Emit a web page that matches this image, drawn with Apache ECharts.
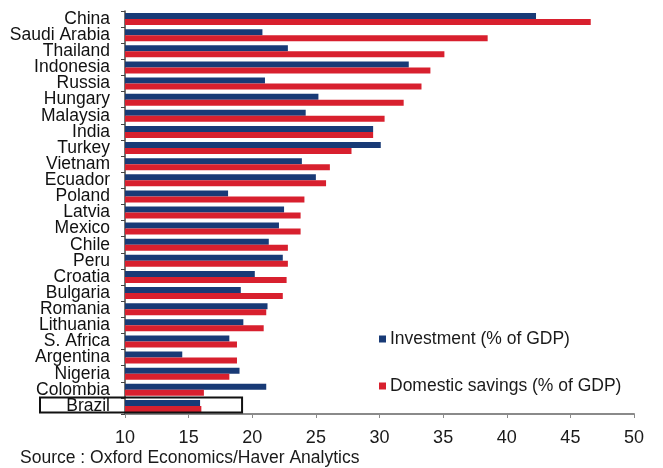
<!DOCTYPE html>
<html>
<head>
<meta charset="utf-8">
<script src="https://cdn.jsdelivr.net/npm/echarts@6/dist/echarts.min.js"></script>
<style>
html,body{margin:0;padding:0;background:#fff;}
#chart{width:663px;height:468px;}
</style>
</head>
<body>
<div id="chart"></div>
<script>
var categories = ["China","Saudi Arabia","Thailand","Indonesia","Russia","Hungary","Malaysia","India","Turkey","Vietnam","Ecuador","Poland","Latvia","Mexico","Chile","Peru","Croatia","Bulgaria","Romania","Lithuania","S. Africa","Argentina","Nigeria","Colombia","Brazil"];
var investment = [42.3,20.8,22.8,32.3,21.0,25.2,24.2,29.5,30.1,23.9,25.0,18.1,22.5,22.1,21.3,22.4,20.2,19.1,21.2,19.3,18.2,14.5,19.0,21.1,15.9];
var savings = [46.6,38.5,35.1,34.0,33.3,31.9,30.4,29.5,27.8,26.1,25.8,24.1,23.8,23.8,22.8,22.8,22.7,22.4,21.1,20.9,18.8,18.8,18.2,16.2,16.0];
var xTicks = {min: 10, max: 50, interval: 5};
var highlighted = "Brazil";
var highlightEnd = 19.2;

var FONT = "'Liberation Sans',Arial,sans-serif";
var chart = echarts.init(document.getElementById('chart'), null, {renderer: 'canvas'});
chart.setOption({
  animation: false,
  backgroundColor: '#ffffff',
  title: {
    text: 'Source : Oxford Economics/Haver Analytics',
    left: 20, top: 449, padding: 0,
    textStyle: {fontFamily: FONT, fontSize: 17.5, fontWeight: 'normal', color: '#1a1a1a'}
  },
  legend: {
    orient: 'vertical',
    left: 374, top: 325,
    itemWidth: 7, itemHeight: 7, itemGap: 29,
    icon: 'rect',
    textStyle: {fontFamily: FONT, fontSize: 17.5, color: '#1a1a1a', padding: [0,0,0,-1]},
    data: ['Investment (% of GDP)', 'Domestic savings (% of GDP)']
  },
  grid: {left: 125, right: 29, top: 11, bottom: 54, containLabel: false},
  xAxis: {
    type: 'value',
    min: xTicks.min, max: xTicks.max, interval: xTicks.interval,
    axisLine: {show: true, lineStyle: {color: '#8a8a8a', width: 2}},
    axisTick: {show: true, length: 4, lineStyle: {color: '#8a8a8a', width: 1}},
    splitLine: {show: false},
    axisLabel: {fontFamily: FONT, fontSize: 18, color: '#1a1a1a', margin: 15}
  },
  yAxis: {
    type: 'category',
    data: categories,
    inverse: true,
    axisLine: {show: true, lineStyle: {color: '#444', width: 1.5}},
    axisTick: {show: true, length: 4, lineStyle: {color: '#444'}},
    axisLabel: {fontFamily: FONT, fontSize: 17.5, color: '#111', margin: 15, interval: 0, lineHeight: 16}
  },
  series: [
    {name: 'Investment (% of GDP)', type: 'bar', data: investment, barGap: '0%', barWidth: 6,
     itemStyle: {color: '#183a76'}},
    {name: 'Domestic savings (% of GDP)', type: 'bar', data: savings, barGap: '0%', barWidth: 6,
     itemStyle: {color: '#d8202e'}}
  ]
});

// Highlight box around the highlighted category, positioned through the axes
var cy = chart.convertToPixel({yAxisIndex: 0}, highlighted);
var band = 403 / categories.length;
var xr = chart.convertToPixel({xAxisIndex: 0}, highlightEnd);
chart.setOption({
  graphic: [{
    type: 'rect',
    shape: {x: 40, y: cy - band / 2 - 0.5, width: xr - 40, height: band - 1},
    style: {fill: 'none', stroke: '#111', lineWidth: 2},
    z: 10
  }]
});
</script>
</body>
</html>
